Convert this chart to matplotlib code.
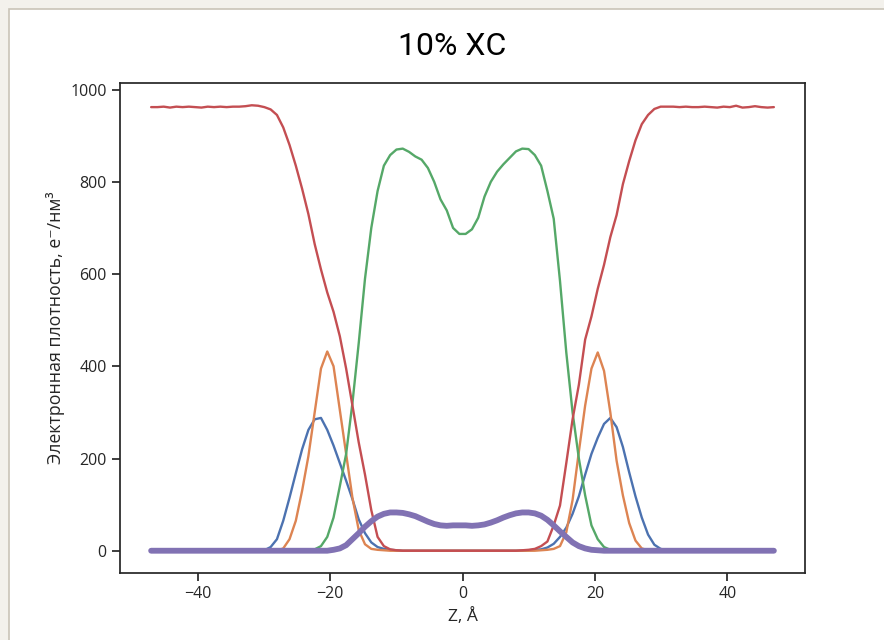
import matplotlib
matplotlib.use("Agg")
import matplotlib.pyplot as plt
from matplotlib.patches import Rectangle
import numpy as np

# Z grid, 100 bins from -47 to 47 A
z = np.linspace(-47, 47, 100)

# electron density profiles, e-/nm^3
blue = ([0] * 18 +
        [1, 8, 25, 65, 115, 168, 220, 262, 285, 288, 262, 228, 190, 152, 112, 68, 38, 18, 8, 4, 2, 1] +
        [0] * 20 +
        [1, 2, 3, 7, 15, 30, 50, 80, 118, 165, 210, 245, 275, 288, 268, 225, 170, 118, 72, 35, 13, 4, 1] +
        [0] * 17)
orange = ([0] * 21 +
          [5, 25, 65, 130, 205, 300, 395, 432, 400, 305, 210, 115, 45, 14, 4, 2, 1] +
          [0] * 24 +
          [1, 2, 4, 10, 40, 110, 215, 315, 395, 430, 390, 300, 195, 120, 60, 22, 5, 1] +
          [0] * 20)
green = ([0] * 26 +
         [3, 10, 30, 72, 140, 210, 320, 450, 590, 700, 780, 835, 858, 870, 872, 865, 855, 848, 830,
          800, 762, 738, 700, 687, 687, 697, 722, 768, 800, 822, 838, 852, 866, 872, 871, 858, 835,
          780, 720, 585, 430, 300, 200, 120, 55, 25, 8, 2] +
         [0] * 26)
red = ([962, 962, 963, 961, 963, 962, 963, 962, 961, 963, 962, 963, 962, 963, 963, 964, 966, 965,
        962, 957, 945, 918, 880, 835, 785, 730, 665, 610, 560, 518, 465, 395, 315, 235, 165, 88, 30,
        10, 3, 1] +
       [0] * 19 +
       [1, 2, 4, 10, 20, 55, 98, 190, 285, 360, 458, 508, 568, 620, 680, 728, 795, 845, 890, 925,
        945, 958, 963,
        963, 963, 962, 963, 962, 962, 963, 962, 961, 963, 962, 965, 961, 962, 964, 962, 961, 962])
purple = ([0] * 29 +
          [2, 5, 12, 25, 38, 52, 64, 74, 80, 83, 83, 82, 79, 75, 69, 63, 58, 55, 54, 55, 55, 55, 54,
           55, 57, 61, 66, 72, 77, 81, 83, 83, 81, 76, 67, 55, 42, 30, 18, 10, 5, 2, 1] +
          [0] * 28)

colors = ["#4C72B0", "#DD8452", "#55A868", "#C44E52", "#8172B3"]
series = [blue, orange, green, red, purple]
widths = [1.7, 1.7, 1.7, 1.7, 4.2]

plt.rcParams["font.family"] = ["Open Sans", "DejaVu Sans"]
plt.rcParams["text.color"] = ".15"
plt.rcParams["axes.labelcolor"] = ".15"
plt.rcParams["xtick.color"] = ".15"
plt.rcParams["ytick.color"] = ".15"

fig = plt.figure(figsize=(8.84, 6.4), dpi=100, facecolor="#f3f1ec")
# white page with a thin frame line at top and left, like the screenshot
fig.patches.append(Rectangle((9 / 884, -0.01), 1.1, 1.01 - 9 / 640, transform=fig.transFigure,
                             facecolor="white", edgecolor="#c9c4b8", lw=1.2, zorder=-5))

ax = fig.add_axes([120 / 884, 1 - 573 / 640, 685 / 884, 490 / 640])
for vals, c, w in zip(series, colors, widths):
    ax.plot(z, vals, color=c, lw=w, solid_capstyle="round")

for s in ax.spines.values():
    s.set_color(".15")
    s.set_linewidth(1.25)
ax.tick_params(direction="out", length=6, width=1.25, labelsize=11.5)
ax.set_xticks([-40, -20, 0, 20, 40])
ax.set_yticks([0, 200, 400, 600, 800, 1000])
ax.set_xlabel("Z, Å", fontsize=12.5)
ax.set_ylabel("Электронная плотность, e⁻/нм³", fontsize=12.8)

fig.text(0.511, 0.928, "10% ХС", fontsize=23, family=["Roboto", "DejaVu Sans"],
         ha="center", va="center", color="black")

fig.savefig("out.png", dpi=100, facecolor=fig.get_facecolor())
